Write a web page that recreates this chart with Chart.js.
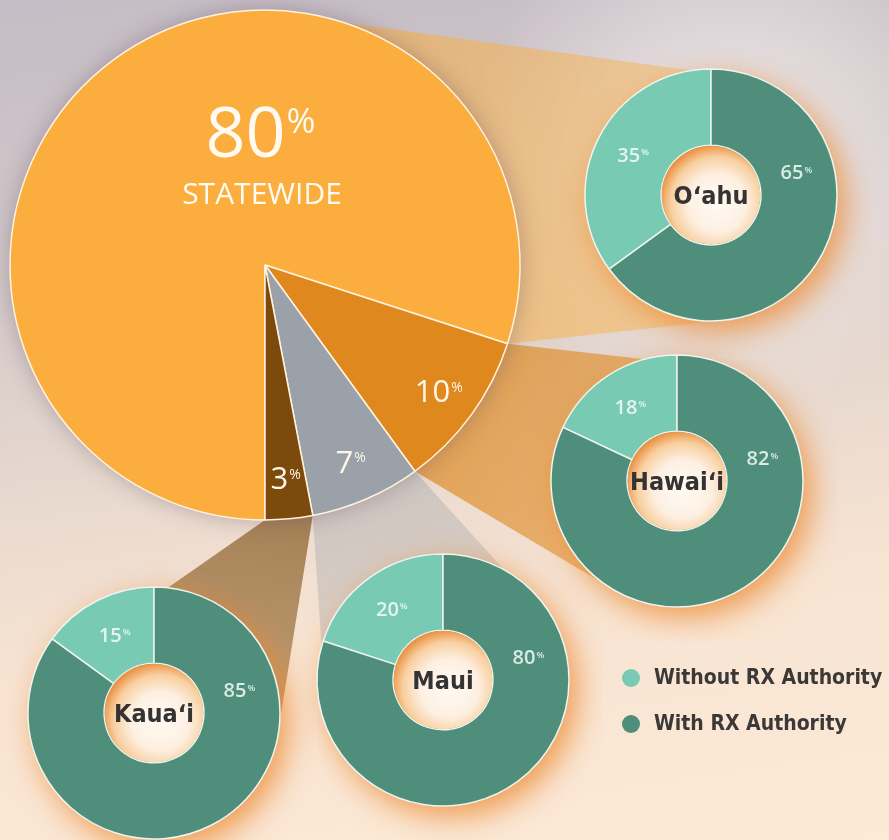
<!DOCTYPE html>
<html>
<head>
<meta charset="utf-8">
<script src="https://cdn.jsdelivr.net/npm/chart.js@4.4.0/dist/chart.umd.min.js"></script>
<style>
body {
  margin: 0;
  width: 889px;
  height: 840px;
  overflow: hidden;
  position: relative;
  background:
    radial-gradient(circle at 82% 18%, rgba(250,245,242,0.75) 0, rgba(250,245,242,0) 260px),
    linear-gradient(172deg, #c5bcc5 0%, #d2c8c9 28%, #e8d9cf 52%, #f8e4d2 72%, #fce9d6 100%);
}
canvas { position: absolute; }
#legend {
  position: absolute;
  left: 622px;
  top: 664px;
  font: bold 21px "DejaVu Sans Condensed", "DejaVu Sans", sans-serif;
  color: #3b3838;
}
#legend div { height: 46px; line-height: 26px; white-space: nowrap; }
#legend span {
  display: inline-block;
  width: 18px; height: 18px;
  border-radius: 50%;
  margin-right: 14px;
  vertical-align: -3px;
}
</style>
</head>
<body>
<canvas id="beams" width="889" height="840" style="left:0;top:0"></canvas>
<div id="legend"></div>
<script>
// statewide share of respondents by county
var counties = ['Oʻahu', 'Hawaiʻi', 'Maui', 'Kauaʻi'];
var statewide = [80, 10, 7, 3];
var sliceColors = ['#fbae3e', '#de881e', '#9aa1a8', '#7b4a0c'];

// prescribing authority inside each county
var rxLabels = ['Without RX Authority', 'With RX Authority'];
var withoutRx = [35, 18, 20, 15];
var withRx = [65, 82, 80, 85];
var rxColors = ['#79cab2', '#4f8e7b'];

// where the county rings sit on the page
var donutPos = [[711, 195], [677, 481], [443, 680], [154, 713]];

function makeCanvas(cx, cy, size) {
  var c = document.createElement('canvas');
  c.width = size; c.height = size;
  c.style.left = (cx - size / 2) + 'px';
  c.style.top = (cy - size / 2) + 'px';
  document.body.insertBefore(c, document.getElementById('legend'));
  return c;
}

function rgba(hex, a) {
  var n = parseInt(hex.slice(1), 16);
  return 'rgba(' + (n >> 16) + ',' + ((n >> 8) & 255) + ',' + (n & 255) + ',' + a + ')';
}

// number with a small raised % sign
function drawPct(ctx, num, x, y, size, color, ratio, weight) {
  var small = Math.round(size * (ratio || 0.45));
  var fam = '"Open Sans", sans-serif';
  weight = weight || '600';
  ctx.font = weight + ' ' + size + 'px ' + fam;
  var w1 = ctx.measureText(num).width;
  ctx.font = weight + ' ' + small + 'px ' + fam;
  var w2 = ctx.measureText('%').width;
  var left = x - (w1 + w2) / 2;
  var base = y + size * 0.36;
  ctx.fillStyle = color;
  ctx.textAlign = 'left';
  ctx.textBaseline = 'alphabetic';
  ctx.font = weight + ' ' + size + 'px ' + fam;
  ctx.fillText(num, left, base);
  ctx.font = weight + ' ' + small + 'px ' + fam;
  ctx.fillText('%', left + w1 + 1, base - size * 0.34);
}

var pieLabels = {
  id: 'pieLabels',
  beforeDatasetsDraw: function(chart) {
    var ctx = chart.ctx, a = chart.getDatasetMeta(0).data[0];
    ctx.save();
    ctx.shadowColor = 'rgba(80,60,80,0.35)';
    ctx.shadowBlur = 22;
    ctx.fillStyle = sliceColors[0];
    ctx.beginPath();
    ctx.arc(a.x, a.y, a.outerRadius, 0, Math.PI * 2);
    ctx.fill();
    ctx.restore();
  },
  afterDatasetsDraw: function(chart) {
    var ctx = chart.ctx;
    var arcs = chart.getDatasetMeta(0).data;
    ctx.save();
    arcs.forEach(function(arc, i) {
      if (i === 0) {
        drawPct(ctx, String(statewide[0]), arc.x - 5, arc.y - 133, 70, '#fffaf2', 0.5, '400');
        ctx.font = '400 30px "Open Sans", sans-serif';
        ctx.textAlign = 'center';
        ctx.textBaseline = 'alphabetic';
        ctx.fillText('STATEWIDE', arc.x - 3, arc.y - 61);
        return;
      }
      var mid = (arc.startAngle + arc.endAngle) / 2;
      var r = arc.outerRadius * 0.84;
      drawPct(ctx, String(statewide[i]), arc.x + Math.cos(mid) * r, arc.y + Math.sin(mid) * r, 31, '#fff6ea', 0.45, '400');
    });
    ctx.restore();
  }
};

var ringDecor = {
  id: 'ringDecor',
  beforeDatasetsDraw: function(chart) {
    var ctx = chart.ctx, a = chart.getDatasetMeta(0).data[0];
    ctx.save();
    ctx.shadowColor = 'rgba(236,135,45,0.8)';
    ctx.shadowBlur = 30;
    ctx.shadowOffsetX = 8;
    ctx.shadowOffsetY = 10;
    ctx.fillStyle = rxColors[1];
    ctx.beginPath();
    ctx.arc(a.x, a.y, a.outerRadius, 0, Math.PI * 2);
    ctx.fill();
    ctx.restore();
  },
  afterDatasetsDraw: function(chart, args, opts) {
    var ctx = chart.ctx;
    var arcs = chart.getDatasetMeta(0).data;
    var a = arcs[0], ri = a.innerRadius, ro = a.outerRadius;
    ctx.save();
    // hollow centre with an orange inner glow
    ctx.beginPath();
    ctx.arc(a.x, a.y, ri - 0.5, 0, Math.PI * 2);
    ctx.clip();
    var g = ctx.createRadialGradient(a.x + 6, a.y + 8, 0, a.x + 6, a.y + 8, ri + 8);
    g.addColorStop(0, '#fffaf4');
    g.addColorStop(0.5, '#fdf0e2');
    g.addColorStop(0.8, '#f8cf9f');
    g.addColorStop(1, '#ea9446');
    ctx.fillStyle = g;
    ctx.fillRect(a.x - ri, a.y - ri, ri * 2, ri * 2);
    ctx.restore();

    ctx.save();
    ctx.fillStyle = '#353232';
    ctx.font = 'bold 25px "DejaVu Sans Condensed", "DejaVu Sans", sans-serif';
    ctx.textAlign = 'center';
    ctx.textBaseline = 'middle';
    ctx.fillText(opts.name, a.x, a.y + 2);

    var rm = (ri + ro) / 2;
    var lightArc = arcs[0];
    var mid = (lightArc.startAngle + lightArc.endAngle) / 2;
    drawPct(ctx, String(opts.values[0]), a.x + Math.cos(mid) * rm, a.y + Math.sin(mid) * rm, 20, '#e4f5ef');
    var darkAng = -Math.PI / 2 + 75 * Math.PI / 180;
    drawPct(ctx, String(opts.values[1]), a.x + Math.cos(darkAng) * rm, a.y + Math.sin(darkAng) * rm, 20, '#d9ebe4');
    ctx.restore();
  }
};

var pieCanvas = makeCanvas(265, 265, 560);
var pie = new Chart(pieCanvas, {
  type: 'pie',
  data: {
    labels: counties,
    datasets: [{
      data: statewide,
      backgroundColor: sliceColors,
      borderColor: '#fff2df',
      borderWidth: 1.5
    }]
  },
  options: {
    responsive: false,
    animation: false,
    rotation: 180,
    radius: 255,
    plugins: { legend: { display: false }, tooltip: { enabled: false } }
  },
  plugins: [pieLabels]
});

var donuts = counties.map(function(name, i) {
  var c = makeCanvas(donutPos[i][0], donutPos[i][1], 320);
  var share = withoutRx[i];
  return new Chart(c, {
    type: 'doughnut',
    data: {
      labels: rxLabels,
      datasets: [{
        data: [withoutRx[i], withRx[i]],
        backgroundColor: rxColors,
        borderColor: '#eef4ee',
        borderWidth: 1.5
      }]
    },
    options: {
      responsive: false,
      animation: false,
      rotation: -share * 3.6,
      radius: 126,
      cutout: 63,
      plugins: {
        legend: { display: false },
        tooltip: { enabled: false },
        ringDecor: { name: name, values: [withoutRx[i], withRx[i]] }
      }
    },
    plugins: [ringDecor]
  });
});

// light beams from each statewide slice to its county ring
(function() {
  var ctx = document.getElementById('beams').getContext('2d');
  var pl = parseFloat(pieCanvas.style.left), pt = parseFloat(pieCanvas.style.top);
  var beamAlpha = [[0.55, 0.4], [0.75, 0.5], [0.4, 0.3], [0.7, 0.45]];
  pie.getDatasetMeta(0).data.forEach(function(arc, i) {
    var d = donuts[i], da = d.getDatasetMeta(0).data[0];
    var dl = parseFloat(d.canvas.style.left), dt = parseFloat(d.canvas.style.top);
    var cx = arc.x + pl, cy = arc.y + pt, R = arc.outerRadius;
    var tx = da.x + dl, ty = da.y + dt, r = da.outerRadius;
    var dir = Math.atan2(ty - cy, tx - cx);
    var s = arc.startAngle, e = arc.endAngle;
    while (dir < s) dir += Math.PI * 2;
    while (dir >= s + Math.PI * 2) dir -= Math.PI * 2;
    var lo = Math.max(s, dir - 1.1), hi = Math.min(e, dir + 1.1);
    var g = ctx.createLinearGradient(cx, cy, tx, ty);
    g.addColorStop(0.3, rgba(sliceColors[i], beamAlpha[i][0]));
    g.addColorStop(1, rgba(sliceColors[i], beamAlpha[i][1]));
    ctx.fillStyle = g;
    ctx.beginPath();
    ctx.moveTo(cx, cy);
    ctx.lineTo(cx + Math.cos(lo) * R, cy + Math.sin(lo) * R);
    ctx.lineTo(tx + Math.cos(dir - Math.PI / 2) * r, ty + Math.sin(dir - Math.PI / 2) * r);
    ctx.lineTo(tx + Math.cos(dir + Math.PI / 2) * r, ty + Math.sin(dir + Math.PI / 2) * r);
    ctx.lineTo(cx + Math.cos(hi) * R, cy + Math.sin(hi) * R);
    ctx.closePath();
    ctx.fill();
  });
})();

var legend = document.getElementById('legend');
rxLabels.forEach(function(label, i) {
  var row = document.createElement('div');
  var dot = document.createElement('span');
  dot.style.background = rxColors[i];
  row.appendChild(dot);
  row.appendChild(document.createTextNode(label));
  legend.appendChild(row);
});
</script>
</body>
</html>
